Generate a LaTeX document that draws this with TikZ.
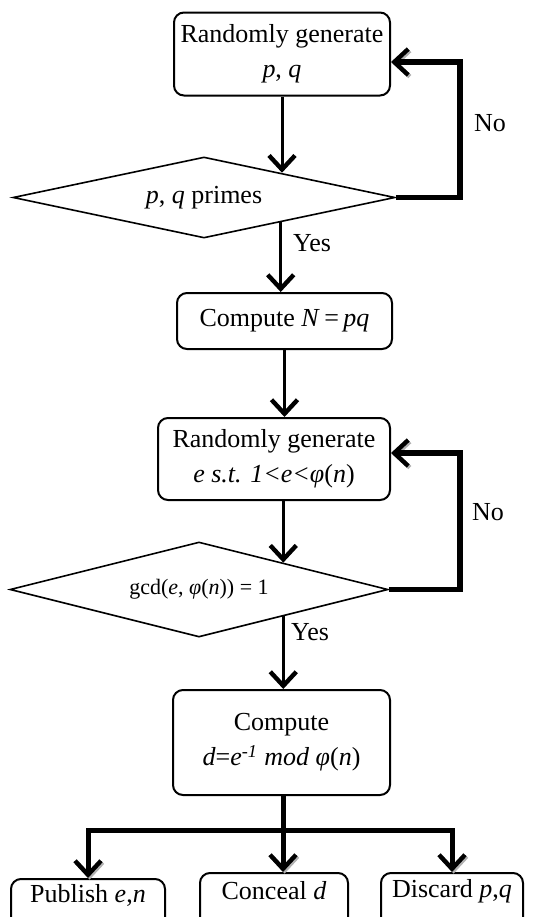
\documentclass[tikz,border=0pt]{standalone}
\usepackage{fontspec}
\setmainfont{Liberation Serif}
\usetikzlibrary{
  arrows.meta, % for Straight Barb arrow tip
  calc, % for the points on the diamond edges
  shapes.geometric, % for the diamond tests
}
\tikzset{
  stepbox/.style={ % style for each process box
    rectangle,rounded corners=5pt,draw,line width=1pt, % thin rounded frame
    align=center, % allow two lines of text
    inner sep=0pt, % sizes are set by hand
  },
  decision/.style={ % style for the tests
    diamond,draw,line width=0.8pt,
    inner sep=0pt,shape aspect=4.5,
  },
  conn/.style={ % style for the straight connections
    -{Straight Barb[length=7pt,width=13pt,line width=2.2pt]}, % heavy barbed arrow tip
    line width=1.5pt,
  },
  shade/.style={ % grey drop shadow under the heavy lines
    preaction={draw=black!30,transform canvas={shift={(0.8pt,-0.8pt)}}},
  },
  backconn/.style={ % style for the heavy return and split lines
    conn,line width=2.75pt,shade,
  },
  answer/.style={inner sep=0pt}, % Yes / No labels
}

\begin{document}
\begin{tikzpicture}[x=0.5pt,y=-0.5pt,font=\fontsize{13}{17.5}\selectfont]
	\useasboundingbox (0,0) rectangle (532,917);

	\node[stepbox,minimum width=108pt,minimum height=41.5pt] (gen1) at (282,54) {Randomly generate\\\textit{p}, \textit{q}};
	\node[decision,minimum width=191pt,minimum height=40.5pt] (dia1) at (204,197.5) {\textit{p}, \textit{q} primes};
	\node[stepbox,minimum width=107.5pt,minimum height=28pt] (comp1) at (284.5,321) {Compute \textit{N}\,=\,\textit{pq}};
	\node[stepbox,minimum width=116pt,minimum height=41pt] (gen2) at (274,459) {Randomly generate\\\textit{e s.t. 1<e<φ}(\textit{n})};
	\node[decision,minimum width=189pt,minimum height=47.5pt,font=\fontsize{11}{13}\selectfont] (dia2) at (199,589.5) {gcd(\textit{e}, \textit{φ}(\textit{n})) = 1};
	\node[stepbox,minimum width=108.5pt,minimum height=52.5pt] (comp2) at (281.5,742.5) {Compute\\\textit{d}=\textit{e}\textsuperscript{\textit{-1}} \textit{mod φ}(\textit{n})};

	\node[stepbox,anchor=north,minimum width=77pt,text height=11.5pt,text depth=30pt] (pub) at (88,878) {Publish \textit{e},\textit{n}};
	\node[stepbox,anchor=north,minimum width=74pt,text height=13pt,text depth=30pt] (con) at (274,872) {Conceal \textit{d}};
	\node[stepbox,anchor=north,minimum width=71pt,text height=12pt,text depth=30pt] (dis) at (452,872) {Discard \textit{p},\textit{q}};

	\node[answer] (yes1) at (312,243) {Yes};
	\node[answer] (no1) at (490,123) {No};
	\node[answer] (yes2) at (310,632) {Yes};
	\node[answer] (no2) at (488,512) {No};

	\coordinate (d1in) at ($(dia1.north)!0.40!(dia1.east)$);
	\coordinate (d1out) at ($(dia1.south)!0.40!(dia1.east)$);
	\coordinate (d2in) at ($(dia2.north)!0.444!(dia2.east)$);
	\coordinate (d2out) at ($(dia2.south)!0.444!(dia2.east)$);
	\coordinate (ret1) at (460,62);
	\coordinate (ret2) at (460,453);
	\coordinate (split) at (283,830);

	\draw[conn] (gen1.south) -- (gen1.south |- d1in);
	\draw[conn] (d1out) -- (d1out |- comp1.north);
	\draw[conn] (comp1.south) -- (comp1.south |- gen2.north);
	\draw[conn] (d2in |- gen2.south) -- (d2in);
	\draw[conn] (d2out) -- (d2out |- comp2.north);

	\draw[backconn] (dia1.east) -| (ret1) -- (ret1 -| gen1.east);
	\draw[backconn] (dia2.east) -| (ret2) -- (ret2 -| gen2.east);

	\draw[line width=2.5pt,shade] (split |- comp2.south) -- (split);
	\draw[backconn,line width=2.5pt] (split) -| (pub.north);
	\draw[backconn,line width=2.5pt] (split) -- (split |- con.north);
	\draw[backconn,line width=2.5pt] (split) -| (dis.north);

\end{tikzpicture}
\end{document}
